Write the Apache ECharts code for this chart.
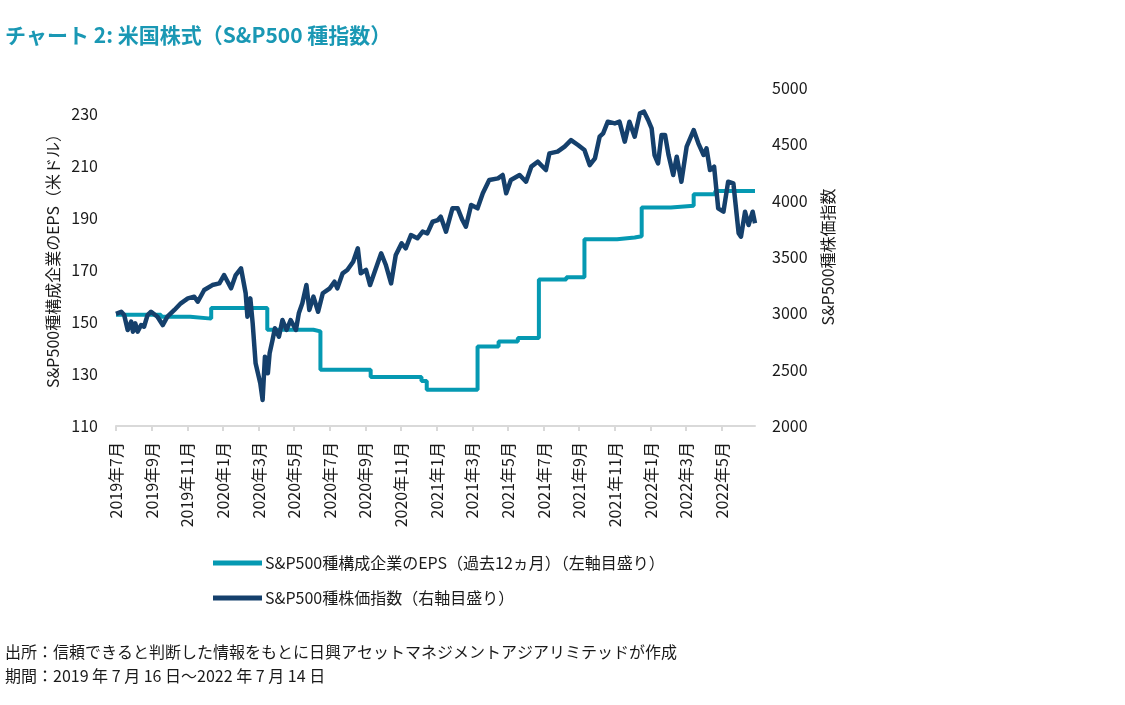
<!DOCTYPE html>
<html>
<head>
<meta charset="utf-8">
<script src="https://cdn.jsdelivr.net/npm/echarts@6/dist/echarts.min.js"></script>
<style>
html,body{margin:0;padding:0;background:#fff;}
#chart{width:1125px;height:705px;}
</style>
</head>
<body>
<div id="chart"></div>
<script>
const startDate = '2019-07-16';
const endDate = '2022-07-14';

const xTickLabels = ['2019年7月','2019年9月','2019年11月','2020年1月','2020年3月','2020年5月','2020年7月','2020年9月','2020年11月','2021年1月','2021年3月','2021年5月','2021年7月','2021年9月','2021年11月','2022年1月','2022年3月','2022年5月'];

const epsDates = ['2019-07-16','2019-10-01','2019-11-20','2019-12-26','2020-03-31','2020-06-18','2020-06-30','2020-09-24','2020-12-20','2020-12-29','2021-03-26','2021-05-01','2021-06-03','2021-07-09','2021-08-25','2021-09-25','2021-11-20','2021-12-20','2022-01-01','2022-02-20','2022-03-31','2022-05-07','2022-07-14'];
const epsValues = [152.8,152.0,151.3,155.4,147.0,146.4,131.6,128.8,127.3,123.9,140.6,142.5,143.8,166.3,167.2,181.8,182.5,183.0,194.0,194.7,199.1,200.4,200.2];

const idxDates = ['2019-07-16','2019-07-25','2019-07-30','2019-08-05','2019-08-11','2019-08-14','2019-08-18','2019-08-22','2019-08-28','2019-09-02','2019-09-08','2019-09-14','2019-09-25','2019-10-04','2019-10-12','2019-10-24','2019-11-04','2019-11-16','2019-11-27','2019-12-03','2019-12-14','2019-12-28','2020-01-09','2020-01-17','2020-01-29','2020-02-06','2020-02-15','2020-02-18','2020-02-23','2020-02-26','2020-03-02','2020-03-06','2020-03-11','2020-03-15','2020-03-19','2020-03-23','2020-03-27','2020-04-01','2020-04-04','2020-04-09','2020-04-13','2020-04-20','2020-04-26','2020-05-03','2020-05-10','2020-05-19','2020-05-24','2020-05-30','2020-06-06','2020-06-11','2020-06-18','2020-06-26','2020-07-04','2020-07-16','2020-07-24','2020-07-29','2020-08-07','2020-08-15','2020-08-25','2020-09-02','2020-09-07','2020-09-16','2020-09-23','2020-09-30','2020-10-12','2020-10-20','2020-10-29','2020-11-06','2020-11-16','2020-11-23','2020-12-02','2020-12-13','2020-12-22','2020-12-30','2021-01-08','2021-01-17','2021-01-22','2021-01-31','2021-02-11','2021-02-20','2021-02-28','2021-03-06','2021-03-15','2021-03-26','2021-04-04','2021-04-15','2021-04-30','2021-05-08','2021-05-14','2021-05-22','2021-06-06','2021-06-17','2021-06-26','2021-07-07','2021-07-21','2021-07-27','2021-08-10','2021-08-22','2021-09-02','2021-09-14','2021-09-25','2021-10-04','2021-10-13','2021-10-21','2021-10-27','2021-11-04','2021-11-16','2021-11-24','2021-12-03','2021-12-11','2021-12-20','2021-12-29','2022-01-05','2022-01-12','2022-01-18','2022-01-23','2022-01-29','2022-02-04','2022-02-10','2022-02-16','2022-02-24','2022-03-02','2022-03-10','2022-03-19','2022-03-31','2022-04-08','2022-04-17','2022-04-22','2022-04-28','2022-05-05','2022-05-12','2022-05-21','2022-05-29','2022-06-07','2022-06-16','2022-06-20','2022-06-27','2022-07-03','2022-07-10','2022-07-14'];
const idxValues = [2995,3014,2985,2852,2926,2837,2911,2837,2896,2881,2985,3014,2970,2896,2970,3030,3089,3133,3148,3103,3207,3251,3266,3340,3222,3340,3400,3385,3178,2970,3133,2911,2556,2468,2379,2231,2615,2468,2645,2763,2867,2793,2941,2852,2941,2852,3000,3089,3251,3030,3148,3014,3178,3222,3281,3222,3355,3385,3458,3577,3355,3385,3251,3355,3533,3429,3266,3518,3621,3577,3695,3666,3725,3710,3813,3828,3858,3725,3932,3932,3828,3769,3962,3932,4065,4183,4198,4228,4065,4183,4228,4168,4302,4346,4272,4420,4435,4480,4538,4494,4450,4316,4376,4568,4598,4701,4686,4701,4524,4701,4568,4775,4790,4716,4642,4405,4331,4583,4583,4405,4228,4390,4168,4480,4627,4509,4405,4464,4272,4302,3932,3902,4168,4153,3710,3680,3902,3784,3902,3799];

const DAY = 86400000;
function dayOf(s){ return Math.round((Date.parse(s) - Date.parse(startDate)) / DAY); }
const epsData = epsDates.map((d,i)=>[dayOf(d), epsValues[i]]);
const idxData = idxDates.map((d,i)=>[dayOf(d), idxValues[i]]);
const xMax = dayOf(endDate);
const tickStep = 61;
const xTickValues = xTickLabels.map((_,i)=>i*tickStep);

const FONT = '"Noto Sans CJK JP", "Noto Sans", sans-serif';
const TEAL = '#0599b2';
const NAVY = '#15406c';
const TXT = '#1a1a1a';

const chart = echarts.init(document.getElementById('chart'), null, {renderer:'canvas'});
chart.setOption({
  animation:false,
  backgroundColor:'#fff',
  textStyle:{fontFamily:FONT},
  title:[
    {text:'チャート 2: 米国株式（S&P500 種指数）', left:5, top:25, padding:0,
     textStyle:{fontFamily:FONT, fontSize:21, fontWeight:'bold', color:'#1a98b4'}},
    {text:'出所：信頼できると判断した情報をもとに日興アセットマネジメントアジアリミテッドが作成', left:5, top:644, padding:0,
     textStyle:{fontFamily:FONT, fontSize:16, fontWeight:'normal', color:TXT}},
    {text:'期間：2019 年 7 月 16 日～2022 年 7 月 14 日', left:5, top:668, padding:0,
     textStyle:{fontFamily:FONT, fontSize:16, fontWeight:'normal', color:TXT}}
  ],
  legend:{
    orient:'vertical', left:213, top:554, itemGap:17, padding:0,
    itemWidth:49, itemHeight:5, icon:'rect',
    textStyle:{fontFamily:FONT, fontSize:16, lineHeight:18, color:TXT, padding:[0,0,0,-2]},
    data:['S&P500種構成企業のEPS（過去12ヵ月）（左軸目盛り）','S&P500種株価指数（右軸目盛り）']
  },
  grid:{left:116, right:370, top:88, bottom:279, containLabel:false},
  xAxis:{
    type:'value', min:0, max:xMax,
    axisLine:{show:true, lineStyle:{color:'#d9d9d9', width:2}},
    axisTick:{show:true, length:5, lineStyle:{color:'#d9d9d9', width:2}, customValues:xTickValues},
    axisLabel:{rotate:90, fontSize:16, color:TXT, margin:16, customValues:xTickValues,
      formatter:function(v){ const i=Math.round(v/tickStep); return xTickLabels[i]||''; }},
    splitLine:{show:false}
  },
  yAxis:[
    {type:'value', min:110, max:240, interval:20, position:'left',
     name:'S&P500種構成企業のEPS（米ドル）', nameLocation:'middle', nameGap:55, nameRotate:90,
     nameTextStyle:{fontFamily:FONT, fontSize:16, color:TXT},
     axisLine:{show:false}, axisTick:{show:false}, splitLine:{show:false},
     axisLabel:{fontSize:16, color:TXT, margin:18, showMaxLabel:false}},
    {type:'value', min:2000, max:5000, interval:500, position:'right',
     name:'S&P500種株価指数', nameLocation:'middle', nameGap:65, nameRotate:90,
     nameTextStyle:{fontFamily:FONT, fontSize:16, color:TXT},
     axisLine:{show:false}, axisTick:{show:false}, splitLine:{show:false},
     axisLabel:{fontSize:16, color:TXT, margin:17, formatter:function(v){return String(v);}}}
  ],
  series:[
    {name:'S&P500種構成企業のEPS（過去12ヵ月）（左軸目盛り）', type:'line', yAxisIndex:0,
     data:epsData, step:'end', showSymbol:false, symbol:'none',
     lineStyle:{color:TEAL, width:4}, itemStyle:{color:TEAL}},
    {name:'S&P500種株価指数（右軸目盛り）', type:'line', yAxisIndex:1,
     data:idxData, showSymbol:false, symbol:'none',
     lineStyle:{color:NAVY, width:4.5, join:'round'}, itemStyle:{color:NAVY}}
  ]
});
</script>
</body>
</html>
